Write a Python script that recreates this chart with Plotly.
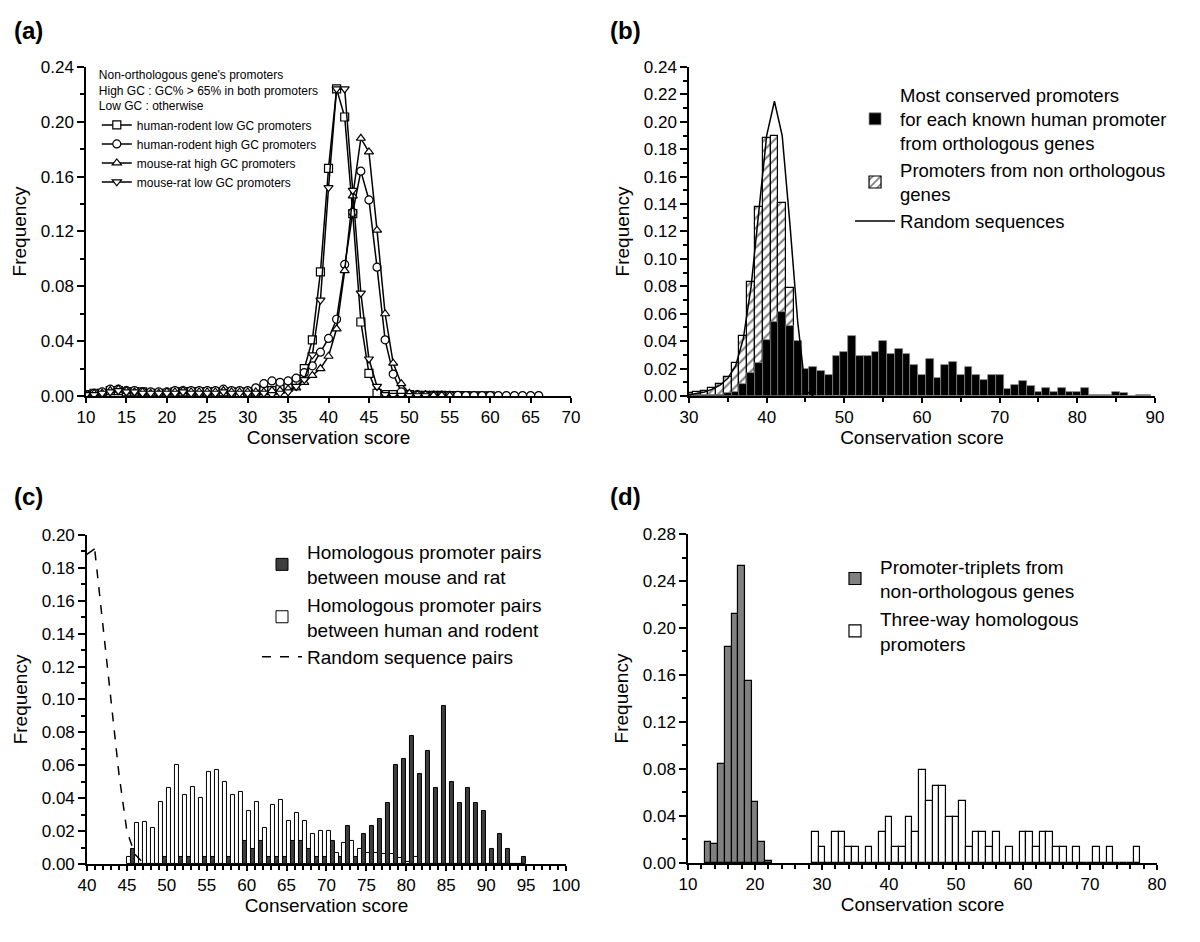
import plotly.graph_objects as go

# ---------------- Panel (a) data ----------------
a_x = list(range(10, 71))
a_hr_low = [0.001, 0.002, 0.002, 0.004, 0.004, 0.003, 0.003, 0.003, 0.002, 0.002,
            0.002, 0.003, 0.003, 0.003, 0.003, 0.003, 0.003, 0.003, 0.003, 0.002,
            0.003, 0.003, 0.004, 0.004, 0.005, 0.007, 0.011, 0.020, 0.041, 0.0905,
            0.166, 0.224, 0.2035, 0.133, 0.054, 0.0165, 0.002, 0.001, 0.001, 0.001,
            0.001, 0.0005, 0.0005, 0.0004, 0.0004, 0.0003, 0.0003, 0.0003, 0.0002, 0.0002,
            0.0002, None, None, None, None, None, None, None, None, None, None]
a_hr_high = [0.001, 0.002, 0.003, 0.005, 0.005, 0.004, 0.004, 0.003, 0.003, 0.003,
             0.003, 0.004, 0.004, 0.004, 0.004, 0.004, 0.004, 0.005, 0.004, 0.004,
             0.004, 0.006, 0.009, 0.011, 0.010, 0.011, 0.013, 0.017, 0.022, 0.032,
             0.042, 0.056, 0.096, 0.134, 0.164, 0.143, 0.094, 0.041, 0.016, 0.003,
             0.001, 0.001, 0.0005, 0.0005, 0.0005, 0.0004, 0.0004, 0.0003, 0.0003, 0.0003,
             0.0003, 0.0003, 0.0003, 0.0003, 0.0003, 0.0003, 0.0003, None, None, None, None]
a_mr_high = [0.001, 0.002, 0.002, 0.004, 0.005, 0.004, 0.003, 0.003, 0.002, 0.002,
             0.003, 0.003, 0.004, 0.003, 0.003, 0.003, 0.003, 0.004, 0.003, 0.003,
             0.003, 0.003, 0.003, 0.004, 0.004, 0.005, 0.006, 0.010, 0.015, 0.020,
             0.029, 0.049, 0.0915, 0.146, 0.188, 0.178, 0.121, 0.060, 0.024, 0.009,
             0.002, 0.001, 0.001, 0.0005, 0.0005, 0.0003, None, None, None, None,
             None, None, None, None, None, None, None, None, None, None, None]
a_mr_low = [0.001, 0.001, 0.002, 0.003, 0.004, 0.003, 0.003, 0.002, 0.002, 0.002,
            0.002, 0.002, 0.003, 0.002, 0.002, 0.002, 0.002, 0.003, 0.002, 0.002,
            0.002, 0.002, 0.002, 0.001, 0.002, 0.003, 0.007, 0.012, 0.030, 0.070,
            0.152, 0.224, 0.224, 0.150, 0.075, 0.027, 0.007, 0.001, 0.0005, 0.0005,
            0.0003, 0.0002, 0.0002, None, None, None, None, None, None, None,
            None, None, None, None, None, None, None, None, None, None, None]
a_names = ["human-rodent low GC promoters", "human-rodent high GC promoters",
           "mouse-rat high GC promoters", "mouse-rat low GC promoters"]

# ---------------- Panel (b) data ----------------
b_x = list(range(30, 90))
b_orth = [0.001, 0.001, 0.001, 0.001, 0.001, 0.002, 0.003, 0.009, 0.017, 0.024,
          0.041, 0.054, 0.061, 0.051, 0.040, 0.020, 0.021, 0.018, 0.015, 0.029,
          0.032, 0.044, 0.029, 0.029, 0.032, 0.040, 0.031, 0.034, 0.031, 0.023,
          0.015, 0.027, 0.013, 0.023, 0.025, 0.015, 0.021, 0.015, 0.012, 0.015,
          0.015, 0.005, 0.008, 0.011, 0.007, 0.003, 0.006, 0.003, 0.006, 0.003,
          0.003, 0.006, 0.001, 0.001, 0.001, 0.003, 0.002, 0.0, 0.001, 0.001]
b_nonorth_x = list(range(30, 45))
b_nonorth = [0.002, 0.003, 0.004, 0.006, 0.009, 0.014, 0.024, 0.044, 0.083, 0.138,
             0.188, 0.190, 0.141, 0.079, 0.030]
b_rand_x = list(range(30, 47))
b_rand = [0.001, 0.002, 0.003, 0.005, 0.008, 0.013, 0.022, 0.042, 0.080, 0.135,
          0.190, 0.215, 0.190, 0.125, 0.054, 0.004, 0.0]

# ---------------- Panel (c) data ----------------
c_x = list(range(46, 96))
c_mouse_rat = [0.009, 0.0, 0.0, 0.0, 0.004, 0.0, 0.004, 0.004, 0.0, 0.004,
               0.004, 0.0, 0.004, 0.0, 0.014, 0.009, 0.014, 0.004, 0.004, 0.004,
               0.014, 0.014, 0.009, 0.004, 0.004, 0.014, 0.004, 0.023, 0.004, 0.018,
               0.023, 0.0275, 0.037, 0.060, 0.064, 0.078, 0.055, 0.069, 0.046, 0.096,
               0.050, 0.037, 0.046, 0.037, 0.032, 0.009, 0.018, 0.009, 0.0, 0.004]
c_human_rodent = [0.004, 0.025, 0.0255, 0.022, 0.038, 0.046, 0.060, 0.042, 0.047, 0.040,
                  0.056, 0.057, 0.050, 0.042, 0.044, 0.032, 0.038, 0.022, 0.036, 0.039,
                  0.026, 0.031, 0.026, 0.018, 0.020, 0.020, 0.007, 0.013, 0.014, 0.009,
                  0.007, 0.007, 0.006, 0.006, 0.0035, 0.001, 0.0045, 0.0, 0.0, 0.0,
                  0.0, 0.0, 0.0, 0.0, 0.0, 0.0, 0.0, 0.0, 0.0, 0.0]
c_rand_x = [41, 42, 43, 44, 45, 46, 47, 48]
c_rand = [0.190, 0.145, 0.098, 0.055, 0.020, 0.006, 0.001, 0.0]

# ---------------- Panel (d) data ----------------
d_trip_x = list(range(13, 23))
d_trip = [0.018, 0.016, 0.0845, 0.184, 0.212, 0.2525, 0.155, 0.052, 0.018, 0.002]
d_three_x = list(range(29, 78))
d_three = [0.0263, 0.0132, 0.0, 0.0263, 0.0263, 0.0132, 0.0132, 0.0, 0.0132, 0.0,
           0.0263, 0.0395, 0.0132, 0.0132, 0.0395, 0.0263, 0.0789, 0.0526, 0.0658, 0.0658,
           0.0395, 0.0395, 0.0526, 0.0132, 0.0263, 0.0263, 0.0132, 0.0263, 0.0, 0.0132,
           0.0, 0.0263, 0.0263, 0.0132, 0.0263, 0.0263, 0.0132, 0.0132, 0.0, 0.0132,
           0.0, 0.0, 0.0132, 0.0, 0.0132, 0.0, 0.0, 0.0, 0.0132]

FONT = "Liberation Sans, Arial, Helvetica, sans-serif"

fig = go.Figure()

# Panel (a)
symbols = ["square", "circle", "triangle-up", "triangle-down"]
for ys, nm, sym in zip([a_hr_low, a_hr_high, a_mr_high, a_mr_low], a_names, symbols):
    fig.add_trace(go.Scatter(
        x=a_x, y=ys, name=nm, mode="lines+markers", xaxis="x", yaxis="y",
        line=dict(color="black", width=1.5),
        marker=dict(symbol=sym, size=8, color="white", line=dict(color="black", width=1.2)),
        legend="legend"))

# Panel (b)
fig.add_trace(go.Bar(
    x=b_nonorth_x, y=b_nonorth, width=1, xaxis="x2", yaxis="y2",
    name="Promoters from non orthologous<br>genes",
    marker=dict(color="white", line=dict(color="black", width=1.2),
                pattern=dict(shape="/", fgcolor="black", bgcolor="white", size=7, solidity=0.3)),
    legend="legend2", legendrank=2))
fig.add_trace(go.Bar(
    x=b_x, y=b_orth, width=1, xaxis="x2", yaxis="y2",
    name="Most conserved promoters<br>for each known human promoter<br>from orthologous genes",
    marker=dict(color="black", line=dict(color="#8a8a8a", width=0.7)),
    legend="legend2", legendrank=1))
fig.add_trace(go.Scatter(
    x=b_rand_x, y=b_rand, mode="lines", xaxis="x2", yaxis="y2",
    name="Random sequences", line=dict(color="black", width=1.5),
    legend="legend2", legendrank=3))

# Panel (c)
fig.add_trace(go.Bar(
    x=c_x, y=c_mouse_rat, width=0.5, offset=-0.5, xaxis="x3", yaxis="y3",
    name="Homologous promoter pairs<br>between mouse and rat",
    marker=dict(color="#3d3d3d", line=dict(color="black", width=1)),
    legend="legend3", legendgroup="c1"))
fig.add_trace(go.Bar(
    x=c_x, y=c_human_rodent, width=0.5, offset=-1.0, xaxis="x3", yaxis="y3",
    name="Homologous promoter pairs<br>between human and rodent",
    marker=dict(color="white", line=dict(color="black", width=1)),
    legend="legend3", legendgroup="c2"))
fig.add_trace(go.Scatter(
    x=c_rand_x, y=c_rand, mode="lines", xaxis="x3", yaxis="y3",
    name="Random sequence pairs", line=dict(color="black", width=1.5, dash="dash"),
    legend="legend3", legendgroup="c3"))

# Panel (d)
fig.add_trace(go.Bar(
    x=d_trip_x, y=d_trip, width=1, xaxis="x4", yaxis="y4",
    name="Promoter-triplets from<br>non-orthologous genes",
    marker=dict(color="#808080", line=dict(color="black", width=1.2)),
    legend="legend4"))
fig.add_trace(go.Bar(
    x=d_three_x, y=d_three, width=1, xaxis="x4", yaxis="y4",
    name="Three-way homologous<br>promoters",
    marker=dict(color="white", line=dict(color="black", width=1.2)),
    legend="legend4"))

tickfont = dict(family=FONT, size=17, color="black")
titlefont = dict(family=FONT, size=19, color="black")


def xax(domain, anchor, rng, dtick, mdtick):
    return dict(domain=domain, anchor=anchor, range=rng, dtick=dtick, tick0=0,
                automargin=False,
                showline=True, linecolor="black", linewidth=1.5, ticks="outside",
                ticklen=5, tickwidth=1.5, tickcolor="black", showgrid=False, zeroline=False,
                tickfont=tickfont, title=dict(text="Conservation score", font=titlefont, standoff=4),
                minor=dict(dtick=mdtick, ticks="outside", ticklen=4, tickwidth=1.5,
                           tickcolor="black", showgrid=False))


def yax(domain, anchor, rng, dtick, mdtick):
    return dict(domain=domain, anchor=anchor, range=rng, dtick=dtick, tick0=0,
                automargin=False,
                showline=True, linecolor="black", linewidth=1.5, ticks="outside",
                ticklen=7, tickwidth=1.5, tickcolor="black", showgrid=False, zeroline=False,
                tickformat=".2f", tickfont=tickfont,
                title=dict(text="Frequency", font=titlefont, standoff=9),
                minor=dict(dtick=mdtick, ticks="outside", ticklen=4, tickwidth=1.5,
                           tickcolor="black", showgrid=False))


legend_common = dict(bgcolor="rgba(0,0,0,0)", borderwidth=0, xanchor="left", yanchor="top",
                     traceorder="normal", itemclick=False)

fig.update_layout(
    width=1200, height=942, autosize=False,
    margin=dict(l=0, r=0, t=0, b=0, autoexpand=False),
    paper_bgcolor="white", plot_bgcolor="white",
    barmode="overlay", bargap=0,
    font=dict(family=FONT, color="black"),
    xaxis=xax([0.065, 0.4692], "y", [10, 70], 5, 5),
    yaxis=yax([0.5881, 0.9374], "x", [0, 0.24], 0.04, 0.02),
    xaxis2=xax([0.5675, 0.9558], "y2", [30, 90], 10, 5),
    yaxis2=yax([0.5881, 0.9374], "x2", [0, 0.24], 0.02, 0.01),
    xaxis3=xax([0.0658, 0.465], "y3", [40, 100], 5, 1),
    yaxis3=yax([0.0913, 0.4406], "x3", [0, 0.20], 0.02, 0.01),
    xaxis4=xax([0.5667, 0.9575], "y4", [10, 80], 10, 2),
    yaxis4=yax([0.0924, 0.4416], "x4", [0, 0.28], 0.04, 0.02),
    legend=dict(x=0.074, y=0.941, font=dict(family=FONT, size=12, color="black"),
                title=dict(text="Non-orthologous gene's promoters<br>High GC : GC% > 65% in both promoters<br>Low GC : otherwise",
                           font=dict(family=FONT, size=12, color="black")),
                itemwidth=30, tracegroupgap=0, **legend_common),
    legend2=dict(x=0.7017, y=0.9275, font=dict(family=FONT, size=18.5, color="black"),
                 itemwidth=40, **legend_common),
    legend3=dict(x=0.2075, y=0.4425, font=dict(family=FONT, size=19, color="black"),
                 itemwidth=40, tracegroupgap=6, **legend_common),
    legend4=dict(x=0.685, y=0.4275, font=dict(family=FONT, size=19, color="black"),
                 itemwidth=40, **legend_common),
    annotations=[
        dict(text="<b>(a)</b>", x=0.0033, y=0.9766, xref="paper", yref="paper", showarrow=False,
             xanchor="left", yanchor="middle", font=dict(family=FONT, size=24, color="black")),
        dict(text="<b>(b)</b>", x=0.5, y=0.9766, xref="paper", yref="paper", showarrow=False,
             xanchor="left", yanchor="middle", font=dict(family=FONT, size=24, color="black")),
        dict(text="<b>(c)</b>", x=0.0033, y=0.4809, xref="paper", yref="paper", showarrow=False,
             xanchor="left", yanchor="middle", font=dict(family=FONT, size=24, color="black")),
        dict(text="<b>(d)</b>", x=0.5, y=0.4809, xref="paper", yref="paper", showarrow=False,
             xanchor="left", yanchor="middle", font=dict(family=FONT, size=24, color="black")),
    ],
    shapes=[
        dict(type="line", xref="x3 domain", yref="y3", x0=-0.004, y0=0.1875, x1=0.016, y1=0.1915,
             line=dict(color="black", width=1.5)),
    ],
)

fig.write_html("out.html")
